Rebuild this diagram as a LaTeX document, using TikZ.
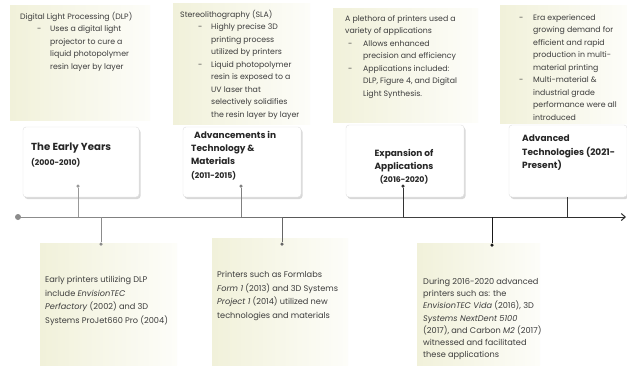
\documentclass[tikz,border=0pt]{standalone}
\usepackage{fontspec}
\setmainfont{Poppins}
\usetikzlibrary{shadows,arrows.meta}
\definecolor{txt}{HTML}{3C3C3C}
\definecolor{cardy}{HTML}{F1F1DA}
\definecolor{cardw}{HTML}{FDFDF9}
\newcommand\bul{\hspace*{17pt}\makebox[13pt][l]{-}}
\newcommand\ind{\hspace*{30pt}}
\newcommand\yrs{\fontsize{7.8}{13}\selectfont}
\begin{document}
\begin{tikzpicture}[x=1pt,y=-1pt,
  desc/.style={anchor=north west,inner sep=0pt,align=left,text=txt,font=\fontsize{7.8}{12.5}\selectfont},
  lowtxt/.style={anchor=north west,inner sep=0pt,align=left,text=txt,font=\fontsize{8.2}{13.7}\selectfont},
  ttl/.style={anchor=north west,inner sep=0pt,align=left,text=black!85,font=\fontsize{9}{13.2}\selectfont\bfseries},
  titlecard/.style={draw=black!12,fill=white,rounded corners=3pt,
    drop shadow={opacity=0.3,shadow xshift=1.5pt,shadow yshift=-2pt}},
  dotc/.style={circle,fill,inner sep=0pt,minimum size=3.5pt},
  conn/.style={line width=1pt}]
\useasboundingbox (0,0) rectangle (627,365);
\fill[white] (0,0) rectangle (627,365);
% description cards
\shade[left color=cardy,right color=cardw] (10,5) rectangle (150,120);
\shade[left color=cardy,right color=cardw] (173,3) rectangle (310,124);
\shade[left color=cardy,right color=cardw] (333,8) rectangle (478,122);
\shade[left color=cardy,right color=cardw] (500,5) rectangle (627,123);
\shade[left color=cardy,right color=cardw] (40,243) rectangle (177,365);
\shade[left color=cardy,right color=cardw] (212,238) rectangle (348,365);
\shade[left color=cardy,right color=cardw] (417,243) rectangle (540,365);
% top texts
\node[desc] (x1) at (20,12) {Digital Light Processing (DLP)\\
\bul Uses a digital light\\
\ind projector to cure a\\
\ind liquid photopolymer\\
\ind resin layer by layer};
\node[desc] (x2) at (180,10) {Stereolithography (SLA)\\
\hspace*{1pt}\bul Highly precise 3D\\
\hspace*{1pt}\ind printing process\\
\hspace*{1pt}\ind utilized by printers\\
\hspace*{1pt}\bul Liquid photopolymer\\
\hspace*{1pt}\ind resin is exposed to a\\
\hspace*{1pt}\ind UV laser that\\
\hspace*{1pt}\ind selectively solidifies\\
\hspace*{1pt}\ind the resin layer by layer};
\node[desc] (x3) at (345,15) {A plethora of printers used a\\
variety of applications\\
\hspace*{3pt}\makebox[15pt][l]{-}Allows enhanced\\
\hspace*{18pt}precision and efficiency\\
\hspace*{3pt}\makebox[15pt][l]{-}Applications included:\\
\hspace*{18pt}DLP, Figure 4, and Digital\\
\hspace*{18pt}Light Synthesis.};
\node[desc] (x4) at (519,14) {\makebox[14pt][l]{-}Era experienced\\
\hspace*{14pt}growing demand for\\
\hspace*{14pt}efficient and rapid\\
\hspace*{14pt}production in multi-\\
\hspace*{14pt}material printing\\
\makebox[14pt][l]{-}Multi-material \&\\
\hspace*{14pt}industrial grade\\
\hspace*{14pt}performance were all\\
\hspace*{14pt}introduced};
% title cards
\node[titlecard,minimum width=116,minimum height=70] (t1) at (81,162) {};
\node[titlecard,minimum width=118,minimum height=70] (t2) at (242,162) {};
\node[titlecard,minimum width=118,minimum height=72] (t3) at (405,161) {};
\node[titlecard,minimum width=118,minimum height=72] (t4) at (568,161) {};
\node[ttl,font=\fontsize{10.2}{15}\selectfont\bfseries] (n1) at (31,143) {The Early Years\\{\yrs(2000-2010)}};
\node[ttl] (n2) at (191,131) {\hspace*{3pt}Advancements in\\Technology \&\\Materials\\{\yrs(2011-2015)}};
\node[ttl,anchor=north,align=center,font=\fontsize{9}{12.8}\selectfont\bfseries] (n3) at (404,149) {Expansion of\\Applications\\{\yrs(2016-2020)}};
\node[ttl] (n4) at (522,135) {Advanced\\Technologies (2021-\\Present)};
% bottom texts
\node[lowtxt] (y1) at (45,276) {Early printers utilizing DLP\\
include \textit{EnvisionTEC}\\
\textit{Perfactory} (2002) and 3D\\
Systems ProJet660 Pro (2004)};
\node[lowtxt] (y2) at (217,271) {Printers such as Formlabs\\
\textit{Form 1} (2013) and 3D Systems\\
\textit{Project 1} (2014) utilized new\\
technologies and materials};
\node[lowtxt,font=\fontsize{8.2}{12.2}\selectfont] (y3) at (423,278) {During 2016-2020 advanced\\
printers such as: the\\
\textit{EnvisionTEC Vida} (2016), 3D\\
\textit{Systems NextDent 5100}\\
(2017), and Carbon \textit{M2} (2017)\\
witnessed and facilitated\\
these applications};
% axis
\node[dotc,black!45,minimum size=6pt] (s) at (18,217) {};
\coordinate (j1) at (78,217);
\coordinate (j2) at (101,217);
\coordinate (j3) at (241,217);
\coordinate (j4) at (282,217);
\coordinate (j5) at (403,217);
\coordinate (j6) at (492,217);
\coordinate (j7) at (567,217);
\coordinate (e) at (626,217);
\draw[conn,black!45] (s.center) -- (j1);
\draw[conn,black!47] (j1) -- (j2);
\draw[conn,black!50] (j2) -- (j3);
\draw[conn,black!55] (j3) -- (j4);
\draw[conn,black!65] (j4) -- (j5);
\draw[conn,black!75] (j5) -- (j6);
\draw[conn,black!80] (j6) -- (j7);
\draw[conn,black!82,-{Straight Barb[length=4pt,width=7pt]}] (j7) -- (e);
% top connectors
\node[dotc,black!40] (d1) at (78,186) {};
\node[dotc,black!50] (d2) at (241,186) {};
\node[dotc,black!80] (d3) at (403,186) {};
\draw[conn,black!40] (d1) -- (j1);
\draw[conn,black!50] (d2) -- (j3);
\draw[conn,black!80] (d3) -- (j5);
\draw[conn,black!80] (t4.south -| j7) -- (j7);
% bottom connectors
\node[dotc,black!45] (u1) at (101,244) {};
\node[dotc,black!60] (u2) at (282,244) {};
\node[dotc,black!90] (u3) at (492,245) {};
\draw[conn,black!45] (j2) -- (u1);
\draw[conn,black!60] (j4) -- (u2);
\draw[conn,black!90] (j6) -- (u3);
\end{tikzpicture}
\end{document}
